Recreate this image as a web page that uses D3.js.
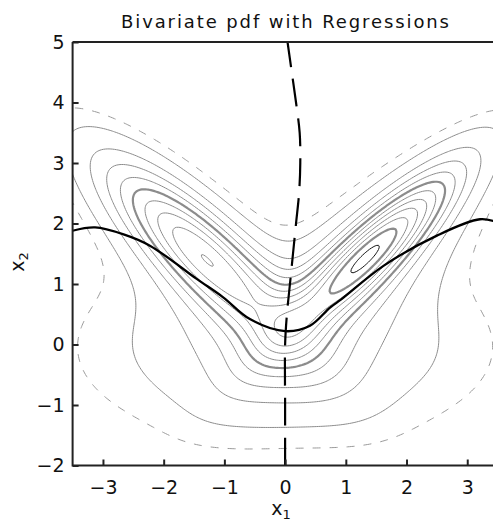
<!DOCTYPE html>
<html>
<head>
<meta charset="utf-8">
<title>Bivariate pdf with Regressions</title>
<script src="https://d3js.org/d3.v7.min.js"></script>
<style>
body { margin: 0; background: #fff; }
text { font-family: 'DejaVu Sans', sans-serif; fill: #111; }
</style>
</head>
<body>
<svg id="chart" width="493" height="525"></svg>
<script>
// ******* Data *******
// pdf as a sum of normal bumps (read/fitted off the picture)
const compMeanX   = [1.45, -1.4441, 1.1814, -1.1814, 1.2215, -1.2215];
const compMeanY   = [1.56, 1.5765, -0.0434, -0.0434, 1.1814, 1.1814];
const compSdMajor = [1.2850, 1.3686, 1.6369, 1.6369, 1.5471, 1.5471];
const compSdMinor = [0.3086, 0.3937, 0.9619, 0.9619, 0.5936, 0.5936];
const compAngle   = [43.8573, 136.8645, 0, 0, 43.8, 136.2];   // degrees
const compWeight  = [0.87, 0.9644, 0.5136, 0.5136, 0.6626, 0.4792];

// contour heights, lowest one is drawn dashed
const contourLevels = [0.021435, 0.042492, 0.084984, 0.127476, 0.169968, 0.21246,
                       0.254952, 0.297444, 0.339936, 0.382428, 0.42492, 0.467412];

// regression of x2 on x1 (solid line)
const regX1 = [-3.5, -3.13, -2.66, -2.22, -1.45, -1.02, -0.58, 0, 0.41, 0.74, 0.93, 1.62, 2.5, 3.21, 3.5];
const regX2 = [1.88, 1.935, 1.82, 1.63, 1.08, 0.78, 0.42, 0.22, 0.31, 0.61, 0.75, 1.30, 1.80, 2.07, 2.02];
// regression of x1 on x2 (dashed line)
const invX2 = [-2, -1, 0, 0.5, 1, 1.5, 2, 2.5, 3, 3.5, 4, 4.5, 5];
const invX1 = [0, 0, 0, 0.03, 0.08, 0.13, 0.18, 0.23, 0.25, 0.24, 0.18, 0.11, 0.04];

const xTicks = [-3, -2, -1, 0, 1, 2, 3];
const yTicks = [-2, -1, 0, 1, 2, 3, 4, 5];

// ******* pdf *******
const comps = compMeanX.map((m, i) => ({
  mx: m, my: compMeanY[i], sa: compSdMajor[i], sb: compSdMinor[i],
  th: compAngle[i] * Math.PI / 180, w: compWeight[i]
}));
function pdf(px, py) {
  let s = 0;
  for (const c of comps) {
    const co = Math.cos(c.th), si = Math.sin(c.th), dx = px - c.mx, dy = py - c.my;
    const u = dx * co + dy * si, v = -dx * si + dy * co;
    s += c.w * Math.exp(-0.5 * (u * u / (c.sa * c.sa) + v * v / (c.sb * c.sb))) / (2 * Math.PI * c.sa * c.sb);
  }
  return s;
}

// ******* Scales *******
const svg = d3.select('#chart');
const x = d3.scaleLinear().domain([-3.5, 3.5]).range([72.6, 497.6]);
const y = d3.scaleLinear().domain([-2, 5]).range([465.5, 42]);

svg.append('clipPath').attr('id', 'clip').append('rect')
    .attr('x', x(-3.5)).attr('y', y(5))
    .attr('width', x(3.5) - x(-3.5)).attr('height', y(-2) - y(5));

// ******* Contours *******
const h = 0.03, gx0 = -3.8, gy0 = -2.3, nx = 254, ny = 254;
const values = new Float64Array(nx * ny);
for (let j = 0; j < ny; j++)
  for (let i = 0; i < nx; i++) values[j * nx + i] = pdf(gx0 + i * h, gy0 + j * h);

const contours = d3.contours().size([nx, ny]).thresholds(contourLevels)(values);
const path = d3.geoPath(d3.geoTransform({
  point(px, py) { this.stream.point(x(gx0 + (px - 0.5) * h), y(gy0 + (py - 0.5) * h)); }
}));

const plot = svg.append('g').attr('clip-path', 'url(#clip)');
plot.selectAll('path.contour')
    .data(contours)
    .join('path')
    .attr('class', 'contour')
    .attr('d', path)
    .attr('fill', 'none')
    .attr('stroke', (d, i) => i === 11 ? '#111' : (i === 0 ? '#999' : '#8c8c8c'))
    .attr('stroke-width', (d, i) => (i === 5 || i === 10) ? 2.2 : 1)
    .attr('stroke-dasharray', (d, i) => i === 0 ? '8,9' : null);

// ******* Regressions *******
const line = d3.line().x(d => x(d[0])).y(d => y(d[1])).curve(d3.curveCatmullRom);
plot.append('path')
    .attr('d', line(regX1.map((v, i) => [v, regX2[i]])))
    .attr('fill', 'none').attr('stroke', '#000').attr('stroke-width', 2.3);
plot.append('path')
    .attr('d', line(invX2.map((v, i) => [invX1[i], v])))
    .attr('fill', 'none').attr('stroke', '#000').attr('stroke-width', 2.2)
    .attr('stroke-dasharray', '28,12');

// ******* Axes *******
svg.append('path')
    .attr('d', `M${x(-3.5)},${y(5)}H493M${x(-3.5)},${y(5)}V${y(-2)}H493`)
    .attr('fill', 'none').attr('stroke', '#222').attr('stroke-width', 2);

const xAx = svg.append('g').attr('transform', `translate(0,${y(-2)})`)
    .call(d3.axisBottom(x).tickValues(xTicks).tickFormat(d3.format('d'))
      .tickSize(-6).tickSizeOuter(0).tickPadding(15));
const yAx = svg.append('g').attr('transform', `translate(${x(-3.5)},0)`)
    .call(d3.axisLeft(y).tickValues(yTicks).tickFormat(d3.format('d'))
      .tickSize(-6).tickSizeOuter(0).tickPadding(8));
[xAx, yAx].forEach(a => {
  a.select('.domain').remove();
  a.selectAll('line').attr('stroke', '#222').attr('stroke-width', 2);
  a.selectAll('text').attr('font-size', 19).attr('font-family', "'DejaVu Sans', sans-serif").attr('fill', '#111');
});

// ******* Labels *******
svg.append('text').attr('x', 285).attr('y', 28).attr('text-anchor', 'middle').attr('font-size', 18)
    .attr('textLength', 328).attr('lengthAdjust', 'spacing')
    .text('Bivariate pdf with Regressions');
const xl = svg.append('text').attr('x', 281).attr('y', 515).attr('text-anchor', 'middle').attr('font-size', 19);
xl.append('tspan').text('x');
xl.append('tspan').attr('dy', 4).attr('font-size', 13).text('1');
const yl = svg.append('text').attr('transform', 'translate(24,262) rotate(-90)').attr('text-anchor', 'middle').attr('font-size', 19);
yl.append('tspan').text('x');
yl.append('tspan').attr('dy', 4).attr('font-size', 13).text('2');
</script>
</body>
</html>
